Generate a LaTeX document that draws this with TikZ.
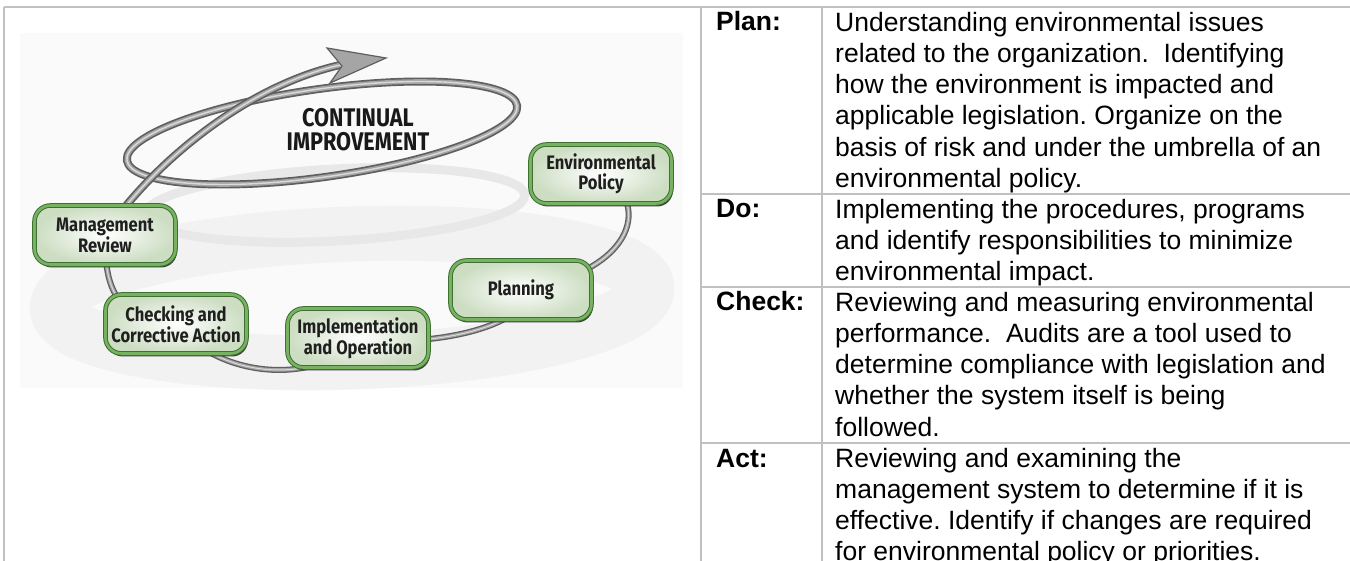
\documentclass[tikz,border=0pt]{standalone}
\usepackage{fontspec}
\setmainfont{Liberation Sans}
\newfontfamily\boxfont[FakeStretch=0.85]{Fira Sans}
\usetikzlibrary{positioning,
        shapes,
        shadows,
        backgrounds}
\frenchspacing
\definecolor{gridgray}{RGB}{192,192,192}
\definecolor{tubedark}{RGB}{95,95,95}
\definecolor{tubemid}{RGB}{165,165,165}
\definecolor{tubelight}{RGB}{218,218,218}
\definecolor{boxdark}{RGB}{62,112,52}
\definecolor{boxgreen}{RGB}{118,178,96}
\definecolor{boxpale}{RGB}{204,221,194}

\begin{document}
\begin{tikzpicture}[x=1pt,y=-1pt,
    stage/.style={rectangle,rounded corners=16pt,minimum width=141pt,minimum height=59pt,inner sep=0pt,
        draw=boxdark,line width=1pt,double=boxgreen,double distance=2.6pt,
        inner color=white,outer color=boxpale,
        drop shadow={shadow xshift=1.5pt,shadow yshift=-3pt,fill=black!85,opacity=0.9},
        align=center,text=black!88,font=\boxfont\bfseries\fontsize{19.5}{20}\selectfont},
    tube/.style={line width=8pt,draw=tubedark,postaction={draw=tubemid,line width=4.6pt},postaction={draw=tubelight,line width=1.4pt}},
    thintube/.style={line width=6pt,draw=tubedark,postaction={draw=tubemid,line width=3.4pt},postaction={draw=tubelight,line width=1pt}},
    rowlab/.style={anchor=base west,inner sep=0pt,font=\bfseries\fontsize{26.5}{31.2}\selectfont},
    rowtext/.style={anchor=north west,inner sep=0pt,align=left,font=\fontsize{26.5}{31.2}\selectfont},
    gridline/.style={draw=gridgray,line width=2.6pt}]
    \useasboundingbox (0,0) rectangle (1350,561);

    % table rules
    \draw [gridline] (4,7) -- (1350,7);
    \draw [gridline] (4,7) -- (4,561);
    \draw [gridline] (701,7) -- (701,561);
    \draw [gridline] (822,7) -- (822,561);
    \draw [gridline] (701,194) -- (1350,194);
    \draw [gridline] (701,287) -- (1350,287);
    \draw [gridline] (701,443) -- (1350,443);

    % stages of the cycle
    \node [stage] (envpol) at (601,174) {Environmental\\Policy};
    \node [stage] (planning) at (521,290) {Planning};
    \node [stage] (implop) at (358,338) {Implementation\\and Operation};
    \node [stage] (checkact) at (176,324) {Checking and\\Corrective Action};
    \node [stage] (mgmtrev) at (105,235) {Management\\Review};
    \node [align=center,text=black!90,font=\boxfont\bfseries\fontsize{25.5}{24}\selectfont] (contimp) at (358,130) {CONTINUAL\\IMPROVEMENT};

    \coordinate (shaftend) at (340,65);
    \begin{scope}[on background layer]
        \fill [black!2] (20,33) rectangle (683,388);
        \draw [black!5,line width=55pt,shift={(352,298)},rotate=2] (0,0) ellipse [x radius=295,y radius=64];
        \draw [black!9,line width=9pt,shift={(335,205)},rotate=3] (0,0) ellipse [x radius=190,y radius=36];
        \draw [thintube] (envpol.center) .. controls (650,200) and (640,270) .. (planning.center)
            .. controls (540,320) and (440,350) .. (implop.center)
            .. controls (320,385) and (220,380) .. (checkact.center)
            .. controls (110,320) and (105,280) .. (mgmtrev.center);
        % upper loop and arrow
        \draw [tube,shift={(322,133)},rotate=8] (0,0) ellipse [x radius=197,y radius=44];
        \draw [tube] (mgmtrev.center) .. controls (135,185) and (230,90) .. (shaftend);
        \fill [tubemid,draw=tubedark,line width=1.2pt] (327,48) -- (386,58) -- (330,83) -- (342,66) -- cycle;
    \end{scope}

    % table text
    \node [rowlab] (planlab) at (716,31) {Plan:};
    \node [rowtext] (plantext) at (835,9.2) {\strut Understanding environmental issues\\
        related to the organization.\ \ Identifying\\
        how the environment is impacted and\\
        applicable legislation. Organize on the\\
        basis of risk and under the umbrella of an\\
        environmental policy.};
    \node [rowlab] (dolab) at (716,218) {Do:};
    \node [rowtext] (dotext) at (835,196.2) {\strut Implementing the procedures, programs\\
        and identify responsibilities to minimize\\
        environmental impact.};
    \node [rowlab] (checklab) at (716,311) {Check:};
    \node [rowtext] (checktext) at (835,289.2) {\strut Reviewing and measuring environmental\\
        performance.\ \ Audits are a tool used to\\
        determine compliance with legislation and\\
        whether the system itself is being\\
        followed.};
    \node [rowlab] (actlab) at (716,467) {Act:};
    \node [rowtext] (acttext) at (835,445.2) {\strut Reviewing and examining the\\
        management system to determine if it is\\
        effective. Identify if changes are required\\
        for environmental policy or priorities.};
\end{tikzpicture}
\end{document}
